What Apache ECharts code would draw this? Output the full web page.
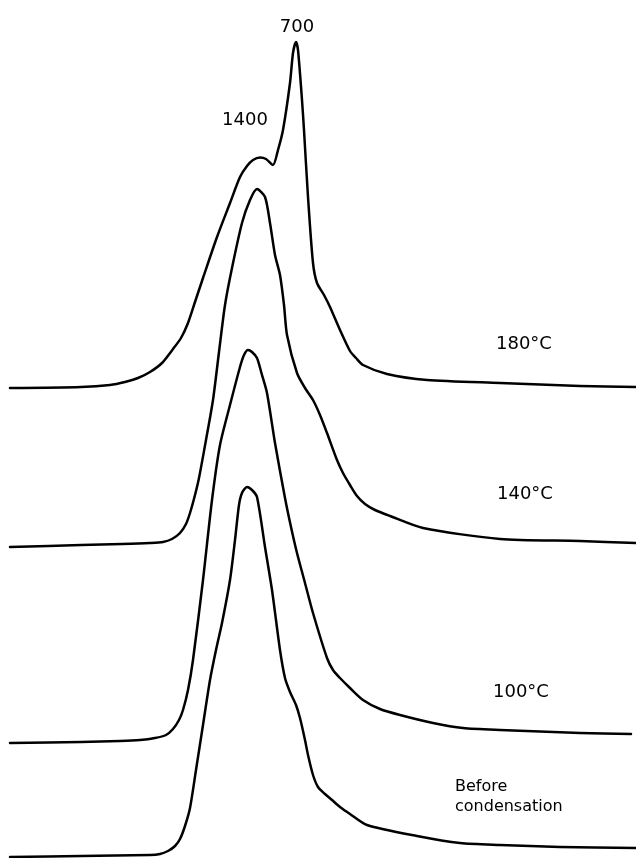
<!DOCTYPE html>
<html>
<head>
<meta charset="utf-8">
<script src="https://cdn.jsdelivr.net/npm/echarts@6/dist/echarts.min.js"></script>
<style>
html,body{margin:0;padding:0;background:#fff;}
#chart{width:636px;height:858px;}
</style>
</head>
<body>
<div id="chart"></div>
<script>
// Elution position (arbitrary units) and detector response (stacked offset included)
var x180 = [10,81,110,125,138,150,162,173,181,188,195,203,217,230,240,247,253,260,266,273,278,283,290,293,296,298,302,304,308,313,317,324,330,340,350,356,363,387,427,500,580,636];
var y180 = [470,471,473,476,480,486,495,509,520,535,556,580,621,655,681,692,698,700.5,699,693,708,728,775,805,816,808,758,728,661,595,575,563,551,528,507,500,493,484,478,475,472,471];

var x140 = [10,81,122,150,163,172,180,186,190,195,199,206,213,219,225,232,242,250,257,265,270,275,280,284,287,297,305,313,320,327,337,343,350,357,365,375,390,423,500,580,636];
var y140 = [311,313,314,315,316,319,325,334,345,363,380,418,458,506,553,590,635,658,669,661,635,603,583,553,523,485,470,458,443,425,398,385,373,362,354,348,342,330,319,317,315];

var x100 = [10,81,120,140,155,166,173,179,183,188,193,203,212,220,230,240,244,248,252,257,262,267,275,285,291,297,305,313,327,333,340,350,363,380,400,433,463,500,580,631];
var y100 = [115,116,117,118,120,123,129,138,148,168,198,278,358,413,453,491,503,508,506,500,483,465,415,360,331,305,275,245,200,188,180,170,158,149,143,135,130,128,125,124];

var xBefore = [10,81,150,160,168,175,180,185,190,196,203,210,216,222,230,235,239,242,247,252,257,265,272,280,285,290,296,300,305,308,313,318,325,332,340,350,367,417,460,500,560,636];
var yBefore = [1,2,3,4,7,12,19,32,50,88,133,178,208,235,278,318,353,365,371,368,361,311,268,208,180,166,153,140,118,103,83,71,64,58,51,44,33,22,15,13,11,10];

var traceNames = ['180°C','140°C','100°C','Before condensation'];
var peakLabelX = [296, 260];
var peakLabelText = ['700', '1400'];

var chart = echarts.init(document.getElementById('chart'), null, {renderer:'canvas'});

function pairs(xs, ys, labelSpec) {
  return xs.map(function(x, i) {
    var item = {value:[x, ys[i]]};
    if (labelSpec) {
      var k = peakLabelX.indexOf(x);
      if (k >= 0) {
        item.label = {
          show: true,
          formatter: peakLabelText[k],
          position: 'top',
          distance: k === 0 ? 6 : 5,
          offset: k === 0 ? [1, 0] : [-15, -23],
          color: '#000',
          fontFamily: 'DejaVu Sans',
          fontSize: 18
        };
      }
    }
    return item;
  });
}

function lineSeries(name, data) {
  return {
    name: name,
    type: 'line',
    data: data,
    smooth: 0.25,
    showSymbol: true,
    symbol: 'circle',
    symbolSize: 0,
    itemStyle: {color: '#000'},
    lineStyle: {color: '#000', width: 2.5, join: 'round', cap: 'round'},
    label: {show: false},
    clip: false,
    silent: true,
    animation: false
  };
}

var option = {
  backgroundColor: '#fff',
  animation: false,
  grid: {left: 0, right: 0, top: 0, bottom: 0},
  xAxis: {type: 'value', min: 0, max: 636, show: false},
  yAxis: {type: 'value', min: 0, max: 858, show: false},
  series: [
    lineSeries(traceNames[0], pairs(x180, y180, true)),
    lineSeries(traceNames[1], pairs(x140, y140)),
    lineSeries(traceNames[2], pairs(x100, y100)),
    lineSeries(traceNames[3], pairs(xBefore, yBefore))
  ],
  graphic: [
    {type:'text', left: 496, top: 335, style:{text: traceNames[0], fill:'#000', font:'18px "DejaVu Sans"'}},
    {type:'text', left: 497, top: 485, style:{text: traceNames[1], fill:'#000', font:'18px "DejaVu Sans"'}},
    {type:'text', left: 493, top: 683, style:{text: traceNames[2], fill:'#000', font:'18px "DejaVu Sans"'}},
    {type:'text', left: 455, top: 777, style:{text: 'Before\ncondensation', fill:'#000', font:'16px "DejaVu Sans"', lineHeight: 20}}
  ]
};
chart.setOption(option);
</script>
</body>
</html>
